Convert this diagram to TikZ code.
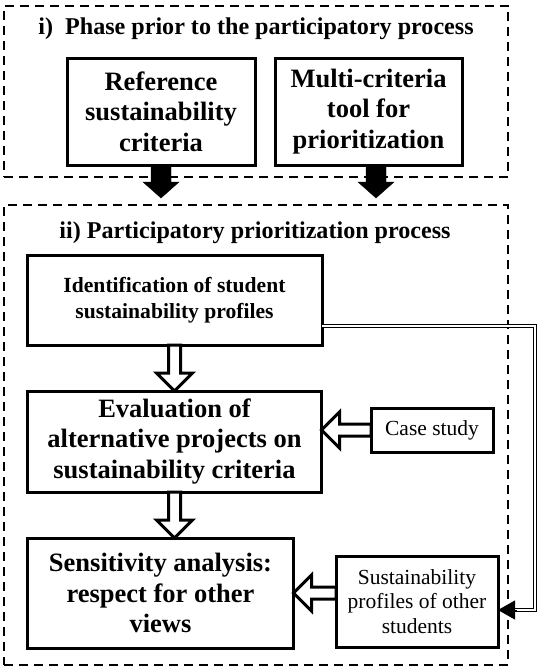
\documentclass[tikz,border=0pt]{standalone}
\usepackage{fontspec}
\setmainfont{Liberation Serif}
\usetikzlibrary{arrows.meta,positioning,calc}

% block arrow: style, tail, tip, shaft half width, head half width, head length
\newcommand{\blockarrow}[6]{%
  \coordinate (neck) at ($(#3)!#6!(#2)$);
  \draw[#1] ($(#2)!#4!90:(#3)$) -- ($(neck)!#4!90:(#3)$) -- ($(neck)!#5!90:(#3)$) -- (#3)
    -- ($(neck)!#5!-90:(#3)$) -- ($(neck)!#4!-90:(#3)$) -- ($(#2)!#4!-90:(#3)$) -- cycle;}

\begin{document}
\begin{tikzpicture}[x=1pt, y=-1pt,
  phasebox/.style={draw, line width=2pt, dash pattern=on 9pt off 6pt,
                   inner sep=0pt, outer sep=0pt},
  phasetitle/.style={inner sep=0pt, font=\fontsize{24.1}{28}\selectfont\bfseries},
  block/.style={rectangle, draw, line width=3pt, outer sep=0pt, inner sep=2pt, align=center},
  bigtext/.style={font=\fontsize{26.5}{30.5}\selectfont\bfseries},
  midtext/.style={font=\fontsize{21.6}{26}\selectfont\bfseries},
  smalltext/.style={font=\fontsize{21.5}{24.5}\selectfont},
  solidarrow/.style={fill=black},
  hollowarrow/.style={draw, line width=3pt, fill=white, line join=miter},
  feedback/.style={double, line width=1pt, double distance=2.3pt, shorten >=15pt},
  feedbacktip/.style={line width=1pt, -{Triangle[length=17pt,width=19pt]}}]
  \useasboundingbox (0,0) rectangle (537,667);
  % the two phases
  \node[phasebox, minimum width=504pt, minimum height=171.5pt] (phasei) at (256,91.25) {};
  \node[phasebox, minimum width=504pt, minimum height=460pt] (phaseii) at (256,435) {};
  \node[phasetitle, anchor=base] (titlei) at (256,34) {i)\ \ Phase prior to the participatory process};
  \node[phasetitle, anchor=base] (titleii) at (255,238) {ii) Participatory prioritization process};
  % phase i
  \node[block, bigtext, minimum width=188pt, minimum height=107pt] (ref) at (161,111.5)
    {Reference\\sustainability\\criteria};
  \node[block, bigtext, minimum width=187pt, minimum height=107pt, right=20pt of ref] (multi)
    {Multi-criteria\\tool for\\prioritization};
  % phase ii
  \node[block, midtext, minimum width=295pt, minimum height=90pt] (ident) at (174.5,300)
    {Identification of student\\sustainability profiles};
  \node[block, bigtext, minimum width=294pt, minimum height=101pt, below=46pt of ident] (eval)
    {Evaluation of\\alternative projects on\\sustainability criteria};
  \node[block, bigtext, minimum width=266pt, minimum height=110pt,
        below=46pt of eval.south west, anchor=north west] (sens)
    {Sensitivity analysis:\\respect for other\\views};
  \node[block, smalltext, minimum width=122pt, minimum height=44pt] (case) at (432,430) {Case study};
  \node[block, smalltext, minimum width=162pt, minimum height=91pt] (prof) at (417,601.5)
    {Sustainability\\profiles of other\\students};
  % arrows
  \coordinate (tipi) at ([yshift=7pt]ref.south |- phaseii.north);
  \coordinate (tailii) at ([xshift=7.5pt]multi.south);
  \coordinate (tipii) at ([yshift=7pt]tailii |- phaseii.north);
  \blockarrow{solidarrow}{ref.south}{tipi}{10pt}{18pt}{16pt}
  \blockarrow{solidarrow}{tailii}{tipii}{10pt}{18pt}{16pt}
  \blockarrow{hollowarrow}{ident.south}{eval.north}{6pt}{18pt}{18pt}
  \coordinate (tipiii) at (eval.south |- sens.north);
  \blockarrow{hollowarrow}{eval.south}{tipiii}{6pt}{18pt}{18pt}
  \coordinate (tipiv) at (case.west -| eval.east);
  \blockarrow{hollowarrow}{case.west}{tipiv}{6pt}{18pt}{18pt}
  \coordinate (tailv) at (sens.east -| prof.west);
  \blockarrow{hollowarrow}{tailv}{sens.east}{6pt}{18pt}{18pt}
  % feedback to the other profiles
  \coordinate (fbtip) at ([yshift=-8.5pt]prof.east);
  \draw[feedback] ([yshift=-26pt]ident.east) -- ++(213,0) |- (fbtip);
  \draw[feedbacktip] ([xshift=19pt]fbtip) -- (fbtip);
\end{tikzpicture}
\end{document}
